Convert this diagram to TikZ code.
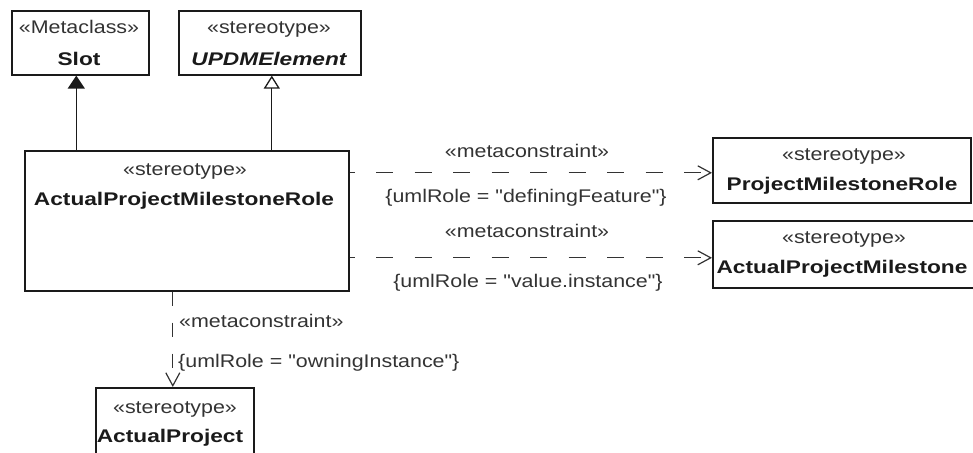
\documentclass[tikz,border=0pt]{standalone}
\usepackage{fontspec}
\setmainfont{Liberation Sans}
\newfontfamily\regf{Liberation Sans}[FakeStretch=1.17]
\newfontfamily\boldf{Liberation Sans}[FakeStretch=1.24]
\usetikzlibrary{arrows.meta}
\definecolor{ink}{HTML}{1A1A1A}
\definecolor{soft}{HTML}{333333}
\begin{document}
\begin{tikzpicture}[x=1pt,y=-1pt,
  box/.style={draw=ink, line width=1.6pt, fill=white, inner sep=0pt, anchor=north west},
  ster/.style={inner sep=0pt, anchor=base, text=soft, font=\regf\fontsize{18.3}{21}\selectfont},
  nm/.style={inner sep=0pt, anchor=base, text=ink, font=\boldf\bfseries\fontsize{18.3}{21}\selectfont},
  nmi/.style={inner sep=0pt, anchor=base, text=ink, font=\boldf\bfseries\itshape\fontsize{18.3}{21}\selectfont},
  lbl/.style={inner sep=0pt, anchor=base, text=soft, font=\regf\fontsize{18.3}{21}\selectfont},
  genfilled/.style={draw=ink, line width=1.3pt, -{Triangle[length=13pt,width=17pt,fill=ink]}},
  genopen/.style={draw=ink, line width=1.3pt, -{Triangle[open,length=13pt,width=16pt,fill=white]}},
  dep/.style={draw=soft, line width=1.2pt, -{Straight Barb[length=13pt,width=14pt,line width=1.2pt]}},
  hdash/.style={dash pattern=on 17pt off 21.5pt, dash phase=12pt},
  vdash/.style={dash pattern=on 14pt off 17pt, dash phase=0pt}
]
\useasboundingbox (0,0) rectangle (973,452);

% boxes
\node[box, minimum width=137pt, minimum height=64pt] (slot) at (11,10) {};
\node[box, minimum width=182pt, minimum height=64pt] (updm) at (178,10) {};
\node[box, minimum width=324pt, minimum height=140pt] (main) at (24,150) {};
\node[box, minimum width=258pt, minimum height=65pt] (pmr) at (712,137) {};
\node[box, minimum width=266pt, minimum height=67pt] (apm) at (712,220) {};
\node[box, minimum width=158pt, minimum height=80pt] (ap) at (95,387) {};

% box texts
\node[ster] (slotS) at (79,34) {«Metaclass»};
\node[nm] (slotN) at (79,65) {Slot};
\node[ster] (updmS) at (269,34) {«stereotype»};
\node[nmi] (updmN) at (269,65) {UPDMElement};
\node[ster] (mainS) at (185,175) {«stereotype»};
\node[nm] (mainN) at (184,205) {ActualProjectMilestoneRole};
\node[ster] (pmrS) at (844,160) {«stereotype»};
\node[nm] (pmrN) at (842,190) {ProjectMilestoneRole};
\node[ster] (apmS) at (844,243) {«stereotype»};
\node[nm] (apmN) at (842,273) {ActualProjectMilestone};
\node[ster] (apS) at (175,413) {«stereotype»};
\node[nm] (apN) at (170,442) {ActualProject};

% generalizations
\coordinate (slotfoot) at ([xshift=-4pt]slot.south);
\draw[genfilled] (slotfoot |- main.north) -- (slotfoot);
\coordinate (updmfoot) at ([xshift=2pt]updm.south);
\draw[genopen] (updmfoot |- main.north) -- (updmfoot);

% dependencies
\coordinate (d1) at ([yshift=48pt]main.east);
\draw[dep, hdash] (d1) -- (d1 -| pmr.west);
\coordinate (d2) at ([yshift=-37pt]main.east);
\draw[dep, hdash] (d2) -- (d2 -| apm.west);
\coordinate (d3) at ([xshift=-14pt]main.south);
\draw[dep, vdash] (d3) -- (d3 |- ap.north);

% connector labels
\node[lbl] (l1a) at (527,157) {«metaconstraint»};
\node[lbl] (l1b) at (526,202) {\{umlRole = "definingFeature"\}};
\node[lbl] (l2a) at (527,237) {«metaconstraint»};
\node[lbl] (l2b) at (528,287) {\{umlRole = "value.instance"\}};
\node[lbl, anchor=base west] (l3a) at (179,327) {«metaconstraint»};
\node[lbl, anchor=base west] (l3b) at (178,367) {\{umlRole = "owningInstance"\}};
\end{tikzpicture}
\end{document}
